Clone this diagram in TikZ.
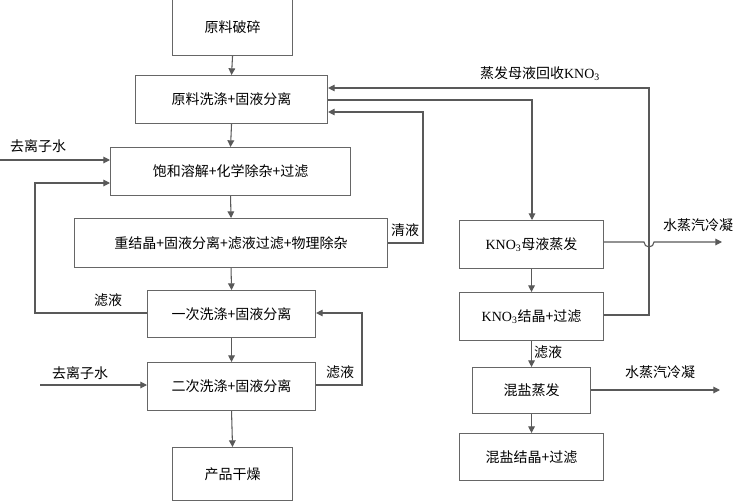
\documentclass[tikz,border=0pt]{standalone}
\usepackage{fontspec}
\setmainfont{Liberation Serif}
\newfontfamily\cjk{Noto Sans CJK SC}
\newfontfamily\lat{Liberation Serif}
\usetikzlibrary{arrows.meta}
\newcommand{\kno}{{\lat KNO\textsubscript{3}}}
\begin{document}
\begin{tikzpicture}[x=0.75pt,y=-0.75pt,
  box/.style={draw=black!60,line width=0.8pt,fill=white,inner sep=0,font=\cjk\fontsize{10.5}{12}\selectfont},
  lbl/.style={inner sep=0,font=\cjk\fontsize{10.5}{12}\selectfont},
  ln/.style={draw=black!65,line width=0.8pt},
  ar/.style={ln,-{Triangle[length=5pt,width=5pt]}}]
\useasboundingbox (0,0) rectangle (750,500);
\fill[white] (0,0) rectangle (750,500);
\newcommand{\bx}[6]{\node[box,minimum width=#4*0.75pt,minimum height=#5*0.75pt,anchor=north west] (#1) at (#2,#3) {#6};}
\bx{b1}{172}{-2}{120}{57}{原料破碎}
\bx{b2}{135}{75}{192}{48}{原料洗涤+固液分离}
\bx{b3}{110}{147}{240}{48}{饱和溶解+化学除杂+过滤}
\bx{b4}{74}{218}{313}{49}{重结晶+固液分离+滤液过滤+物理除杂}
\bx{b5}{147}{290}{168}{47}{一次洗涤+固液分离}
\bx{b6}{147}{362}{168}{48}{二次洗涤+固液分离}
\bx{b7}{172}{447}{120}{53}{产品干燥}
\bx{k1}{459}{220}{144}{48}{\kno 母液蒸发}
\bx{k2}{459}{292}{144}{48}{\kno 结晶+过滤}
\bx{m1}{472}{367}{118}{46}{混盐蒸发}
\bx{m2}{459}{433}{144}{47}{混盐结晶+过滤}
\draw[ar] (b1.south) -- (b2.north);
\draw[ar] (b2.south) -- (b3.north);
\draw[ar] (b3.south) -- (b4.north);
\draw[ar] (b4.south) -- (b5.north);
\draw[ar] (b5.south) -- (b6.north);
\draw[ar] (b6.south) -- (b7.north);
\draw[ar] (k1.south) -- (k2.north);
\draw[ar] (k2.south) -- (m1.north);
\draw[ar] (m1.south) -- (m2.north);
\draw[ar] (b2.east |- 0,100) -- (532,100) -- (k1.north -| 532,0);
\draw[ar] (b4.east |- 0,243) -- (423,243) -- (423,112) -- (b2.east |- 0,112);
\draw[ar] (k2.east |- 0,315) -- (649,315) -- (649,88) -- (b2.east |- 0,88);
\coordinate (w1) at (0,160);
\draw[ar] (w1) -- (b3.west |- w1);
\draw[ar] (b5.west |- 0,313) -- (35,313) -- (35,183) -- (b3.west |- 0,183);
\coordinate (w2) at (40,385);
\draw[ar] (w2) -- (b6.west |- w2);
\draw[ar] (b6.east |- 0,385) -- (362,385) -- (362,313) -- (b5.east |- 0,313);
\coordinate (o1) at (722,242);
\draw[ar] (k1.east |- o1) -- (644,242) arc[start angle=180,end angle=0,radius=5] -- (o1);
\coordinate (o2) at (720,390);
\draw[ar] (m1.east |- o2) -- (o2);
\node[lbl] (t1) at (540,74) {蒸发母液回收\kno};
\node[lbl] (t2) at (38,146) {去离子水};
\node[lbl] (t3) at (405,230) {清液};
\node[lbl] (t4) at (108,300) {滤液};
\node[lbl] (t5) at (80,373) {去离子水};
\node[lbl] (t6) at (340,372) {滤液};
\node[lbl] (t7) at (698,225) {水蒸汽冷凝};
\node[lbl] (t8) at (548,352) {滤液};
\node[lbl] (t9) at (660,372) {水蒸汽冷凝};
\end{tikzpicture}
\end{document}
